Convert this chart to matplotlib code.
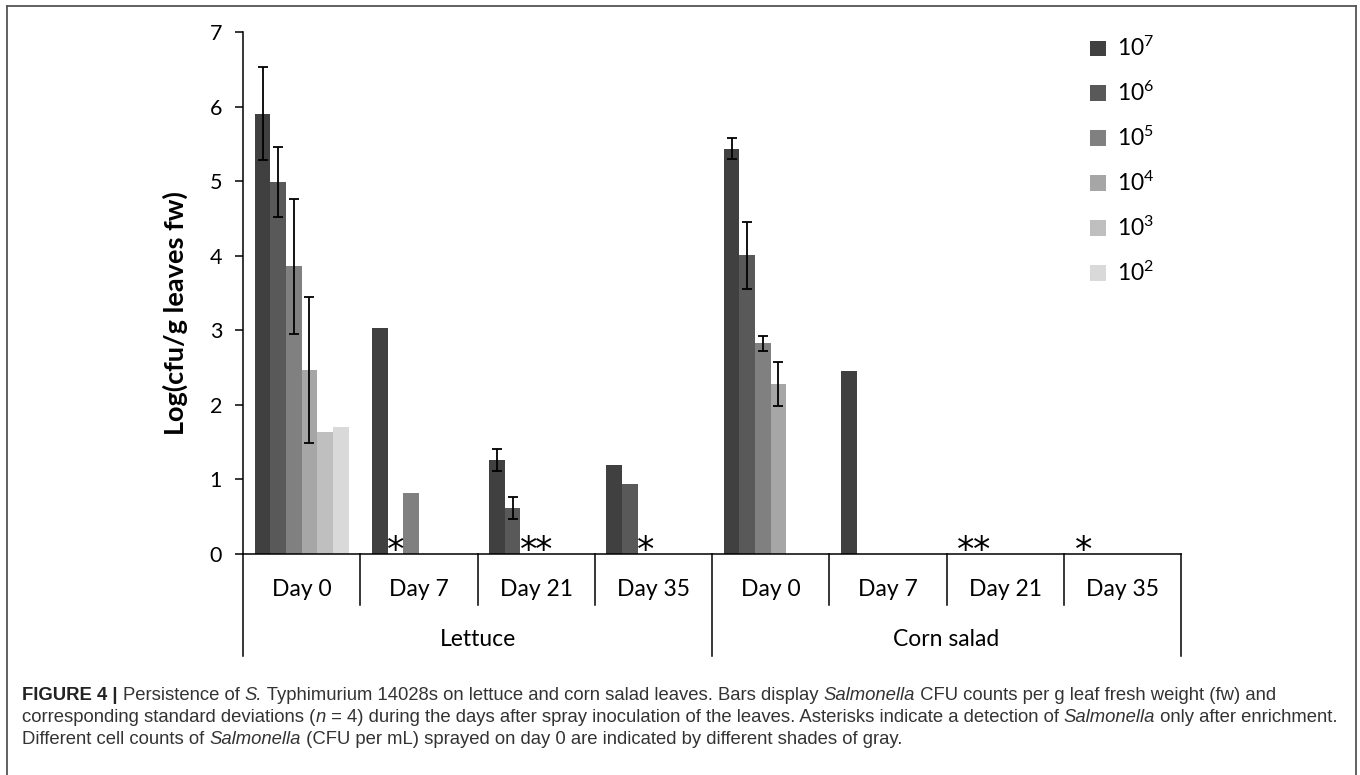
import matplotlib
matplotlib.use("Agg")
import matplotlib.pyplot as plt
from matplotlib import font_manager
from matplotlib.patches import Patch
from matplotlib.lines import Line2D
from matplotlib.transforms import blended_transform_factory
import numpy as np

nan = np.nan

# ---------------- data ----------------
days = ["Day 0", "Day 7", "Day 21", "Day 35", "Day 0", "Day 7", "Day 21", "Day 35"]
crops = ["Lettuce", "Corn salad"]
series_labels = ["10$^7$", "10$^6$", "10$^5$", "10$^4$", "10$^3$", "10$^2$"]
colors = ["#404040", "#595959", "#808080", "#a6a6a6", "#bfbfbf", "#d9d9d9"]

v7 = [5.91, 3.03, 1.26, 1.19, 5.44, 2.45, 0, 0]
v6 = [4.99, 0, 0.62, 0.935, 4.01, 0, 0, 0]
v5 = [3.86, 0.82, 0, 0, 2.83, 0, 0, 0]
v4 = [2.47, 0, 0, 0, 2.28, 0, 0, 0]
v3 = [1.64, 0, 0, 0, 0, 0, 0, 0]
v2 = [1.70, 0, 0, 0, 0, 0, 0, 0]

e7 = [0.62, nan, 0.145, nan, 0.14, nan, nan, nan]
e6 = [0.465, nan, 0.145, nan, 0.45, nan, nan, nan]
e5 = [0.905, nan, nan, nan, 0.10, nan, nan, nan]
e4 = [0.98, nan, nan, nan, 0.30, nan, nan, nan]
e3 = [nan] * 8
e2 = [nan] * 8

# detection only after enrichment (asterisk)
a7 = [0, 0, 0, 0, 0, 0, 1, 1]
a6 = [0, 1, 0, 0, 0, 0, 1, 0]
a5 = [0, 0, 1, 1, 0, 0, 0, 0]
a4 = [0, 0, 1, 0, 0, 0, 0, 0]
a3 = [0] * 8
a2 = [0] * 8

values = [v7, v6, v5, v4, v3, v2]
errors = [e7, e6, e5, e4, e3, e2]
asterisks = [a7, a6, a5, a4, a3, a2]

caption_lines = [
    [("FIGURE 4 | ", "bold"), ("Persistence of ", "normal"), ("S.", "italic"),
     (" Typhimurium 14028s on lettuce and corn salad leaves. Bars display ", "normal"),
     ("Salmonella", "italic"),
     (" CFU counts per g leaf fresh weight (fw) and", "normal")],
    [("corresponding standard deviations (", "normal"), ("n", "italic"),
     (" = 4) during the days after spray inoculation of the leaves. Asterisks indicate a detection of ", "normal"),
     ("Salmonella", "italic"), (" only after enrichment.", "normal")],
    [("Different cell counts of ", "normal"), ("Salmonella", "italic"),
     (" (CFU per mL) sprayed on day 0 are indicated by different shades of gray.", "normal")],
]

# ---------------- style ----------------
avail = {f.name for f in font_manager.fontManager.ttflist}
chart_font = "Lato" if "Lato" in avail else "DejaVu Sans"
cap_font = "Liberation Sans Narrow" if "Liberation Sans Narrow" in avail else "Liberation Sans"

plt.rcParams["font.family"] = [chart_font, "DejaVu Sans"]
plt.rcParams["mathtext.fontset"] = "custom"
plt.rcParams["mathtext.rm"] = chart_font
plt.rcParams["mathtext.it"] = chart_font + ":italic"

W, H = 1360, 775
fig = plt.figure(figsize=(W / 100, H / 100), dpi=100)

x0, x1 = 243, 1181
y0, y1 = 554, 32.3
ax = fig.add_axes([x0 / W, 1 - y0 / H, (x1 - x0) / W, (y0 - y1) / H])

n_cat = len(days)
n_ser = len(values)
x = np.arange(n_cat)
group_w = 0.8
bw = group_w / n_ser

for i, (vals, errs, col) in enumerate(zip(values, errors, colors)):
    xs = x - group_w / 2 + bw * (i + 0.5)
    ax.bar(xs, vals, width=bw, color=col, linewidth=0, zorder=2)
    ax.errorbar(xs, vals, yerr=errs, fmt="none", ecolor="black",
                elinewidth=1.3, capsize=3.8, capthick=1.3, zorder=3)

for i, flags in enumerate(asterisks):
    xs = x - group_w / 2 + bw * (i + 0.5)
    for xi, f in zip(xs, flags):
        if f:
            ax.text(xi, -0.09, "*", ha="center", va="baseline", fontsize=25,
                    family="DejaVu Sans", color="black", zorder=4)

ax.set_xlim(-0.5, n_cat - 0.5)
ax.set_ylim(0, 7)
ax.set_yticks(range(0, 8))
ax.set_xticks([])
ax.tick_params(axis="y", direction="out", length=6, width=1.1, labelsize=15.5, pad=9)
for s in ["top", "right"]:
    ax.spines[s].set_visible(False)
for s in ["left", "bottom"]:
    ax.spines[s].set_linewidth(1.1)
    ax.spines[s].set_color("black")

ax.set_ylabel("Log(cfu/g leaves fw)", fontsize=19.5, fontweight="bold")
ax.yaxis.set_label_coords(-(x0 - 188) / (x1 - x0), (y0 - 313) / (y0 - y1))

# multi-level category axis
trans = blended_transform_factory(ax.transData, ax.transAxes)
h_ax = y0 - y1
short_y = -(605 - y0) / h_ax
long_y = -(656 - y0) / h_ax
for b in np.arange(0.5, n_cat - 1, 1.0):
    yb = long_y if b == 3.5 else short_y
    ax.add_line(Line2D([b, b], [0, yb], transform=trans, color="black",
                       lw=1.1, clip_on=False))
for b in [-0.5, n_cat - 0.5]:
    ax.add_line(Line2D([b, b], [0, long_y], transform=trans, color="black",
                       lw=1.1, clip_on=False))
for xi, d in zip(x, days):
    ax.text(xi, -(590 - y0) / h_ax, d, transform=trans, ha="center", va="center",
            fontsize=16.5)
for k, c in enumerate(crops):
    ax.text(1.5 + 4 * k, -(640 - y0) / h_ax, c, transform=trans, ha="center",
            va="center", fontsize=16.5)

# legend
handles = [Patch(facecolor=c, edgecolor="none") for c in colors]
fig.legend(handles, series_labels, loc="upper left",
           bbox_to_anchor=(1081 / W, 1 - 27 / H), frameon=False, fontsize=16.5,
           handlelength=0.68, handleheight=0.68, handletextpad=0.5,
           labelspacing=0.9, borderaxespad=0)

# frame
fc = "#555555"
fig.add_artist(Line2D([7 / W, 7 / W], [0, 1 - 6 / H], color=fc, lw=1.3, transform=fig.transFigure))
fig.add_artist(Line2D([1356 / W, 1356 / W], [0, 1 - 6 / H], color=fc, lw=1.3, transform=fig.transFigure))
fig.add_artist(Line2D([7 / W, 1356 / W], [1 - 6 / H, 1 - 6 / H], color=fc, lw=1.3, transform=fig.transFigure))

# caption with mixed styles
renderer = fig.canvas.get_renderer()
cap_color = "#333333"


def seg_width(txt, style, size):
    kw = dict(fontsize=size, family=cap_font)
    if style == "bold":
        kw["fontweight"] = "bold"
    if style == "italic":
        kw["fontstyle"] = "italic"
    t1 = fig.text(0, 0, "|" + txt + "|", **kw)
    t2 = fig.text(0, 0, "||", **kw)
    w = t1.get_window_extent(renderer).width - t2.get_window_extent(renderer).width
    t1.remove()
    t2.remove()
    return w


base = 11.0
w_line2 = sum(seg_width(t, s, base) for t, s in caption_lines[1])
cap_size = base * (1318.0 / w_line2)

line_y = [696, 718, 740]
for line, yy in zip(caption_lines, line_y):
    cx = 22.0
    for txt, style in line:
        kw = dict(fontsize=cap_size, family=cap_font, color=cap_color,
                  va="center", ha="left")
        if style == "bold":
            kw["fontweight"] = "bold"
            kw["color"] = "#222222"
        if style == "italic":
            kw["fontstyle"] = "italic"
        fig.text(cx / W, 1 - yy / H, txt, **kw)
        cx += seg_width(txt, style, cap_size)

fig.savefig("out.png", dpi=100)
